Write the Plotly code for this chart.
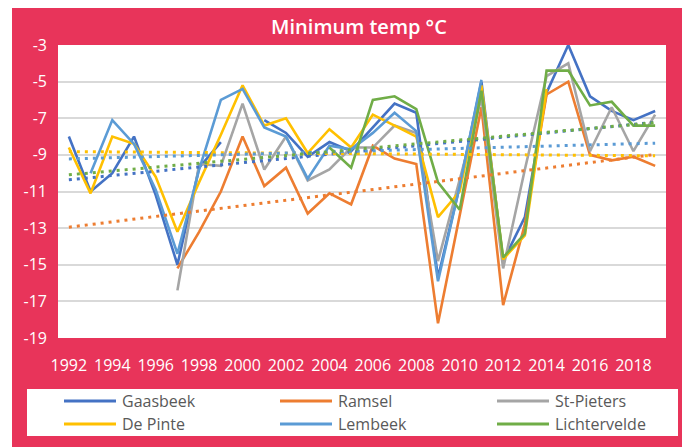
import plotly.graph_objects as go

years = list(range(1992, 2020))
year_ticks = list(range(1992, 2019, 2))
y_ticks = list(range(-19, -2, 2))

series_names = ["Gaasbeek", "Ramsel", "St-Pieters", "De Pinte", "Lembeek", "Lichtervelde"]
series_colors = ["#4472C4", "#ED7D31", "#A5A5A5", "#FFC000", "#5B9BD5", "#70AD47"]

N = None
gaasbeek = [-8.0, -11.0, -10.0, -8.0, -11.2, -15.0, -9.7, -8.3, N, -7.1, -7.8, -9.1, -8.3, -8.8,
            -7.5, -6.2, -6.7, -15.7, -10.7, -5.0, -14.8, -12.4, -5.6, -3.0, -5.8, -6.6, -7.1, -6.6]
ramsel = [N, N, N, N, N, -15.2, -13.2, -11.0, -8.0, -10.7, -9.7, -12.2, -11.1, -11.7,
          -8.5, -9.2, -9.5, -18.2, -12.3, -6.4, -17.2, -12.8, -5.7, -5.0, -9.0, -9.3, -9.1, -9.6]
st_pieters = [N, N, N, N, N, -16.4, -9.5, -9.6, -6.2, -9.8, -8.0, -10.4, -9.8, -8.6,
              -8.6, -7.4, -7.8, -14.8, -10.3, -5.9, -15.2, -9.8, -4.7, -4.0, -8.8, -6.4, -8.8, -6.8]
de_pinte = [-8.6, -11.1, -8.0, -8.4, -10.2, -13.2, -10.5, -7.9, -5.2, -7.4, -7.0, -8.9, -7.6, -8.6,
            -6.8, -7.4, -8.0, -12.4, -11.0, -5.2, -14.7, -13.4, -5.4, N, N, N, N, N]
lembeek = [N, -10.0, -7.1, -8.4, -10.9, -14.4, -9.8, -6.0, -5.4, -7.5, -8.0, -10.3, -8.5, -8.7,
           -7.8, -6.7, -7.7, -15.9, -10.7, -4.9, N, N, N, N, N, N, N, N]
lichtervelde = [N, N, N, N, N, N, N, N, N, N, N, N, -8.6, -9.7,
                -6.0, -5.8, -6.5, -10.5, -12.0, -5.5, -14.6, -13.3, -4.4, -4.4, -6.3, -6.1, -7.4, -7.4]

# trend lines (values at 1992 and 2019); St-Pieters has none
trend_years = [1992, 2019]
trend_gaasbeek = [-10.36, -7.22]
trend_ramsel = [-12.95, -8.98]
trend_de_pinte = [-8.82, -9.05]
trend_lembeek = [-9.22, -8.36]
trend_lichtervelde = [-10.09, -7.24]

series_values = [gaasbeek, ramsel, st_pieters, de_pinte, lembeek, lichtervelde]
trend_values = [trend_gaasbeek, trend_ramsel, None, trend_de_pinte, trend_lembeek, trend_lichtervelde]

PINK = "#E8345A"
FONT = "Open Sans"

fig = go.Figure()
for name, vals, col in zip(series_names, series_values, series_colors):
    fig.add_trace(go.Scatter(x=years, y=vals, mode="lines", name=name,
                             line=dict(color=col, width=2.6), connectgaps=False,
                             showlegend=False))
for name, tv, col in zip(series_names, trend_values, series_colors):
    if tv is None:
        continue
    fig.add_trace(go.Scatter(x=trend_years, y=tv, mode="lines", name=name + " trend",
                             line=dict(color=col, width=3, dash="3px,5px"),
                             showlegend=False))

# page body adds an 8px offset; the figure is sized/positioned to compensate
OFF = 8
W, H = 694 - OFF, 447 - OFF
ML, MT = 58 - OFF, 45 - OFF
MR = W - (666 - OFF)
MB = H - (338 - OFF)
PW, PH = W - ML - MR, H - MT - MB


def px_x(X):
    return (X - OFF - ML) / PW


def px_y(Y):
    return (H - MB - (Y - OFF)) / PH


shapes = [
    # pink background card
    dict(type="rect", xref="paper", yref="paper", x0=px_x(12), x1=px_x(682),
         y0=px_y(450), y1=px_y(8), fillcolor=PINK, line=dict(width=0), layer="below"),
    # white plot area
    dict(type="rect", xref="paper", yref="paper", x0=0, x1=1, y0=0, y1=1,
         fillcolor="white", line=dict(width=0), layer="below"),
    # legend box
    dict(type="rect", xref="paper", yref="paper", x0=px_x(27), x1=px_x(678),
         y0=px_y(436), y1=px_y(389), fillcolor="white", line=dict(width=0), layer="above"),
]
annotations = []
col_x = [64, 280, 497]
row_y = [401, 424]
for i, (name, col) in enumerate(zip(series_names, series_colors)):
    r, c = divmod(i, 3)
    x0 = col_x[c]
    yy = row_y[r]
    shapes.append(dict(type="line", xref="paper", yref="paper",
                       x0=px_x(x0), x1=px_x(x0 + 52), y0=px_y(yy), y1=px_y(yy),
                       line=dict(color=col, width=3), layer="above"))
    annotations.append(dict(xref="paper", yref="paper", x=px_x(x0 + 56), y=px_y(yy),
                            text=name, showarrow=False, xanchor="left", yanchor="middle",
                            font=dict(family=FONT, size=16, color="#595959")))

fig.update_layout(
    width=W, height=H,
    margin=dict(l=ML, r=MR, t=MT, b=MB, pad=0),
    paper_bgcolor="white",
    plot_bgcolor="white",
    title=dict(text="Minimum temp °C", x=px_x(359), xref="paper", xanchor="center",
               y=1 - (27 - OFF) / H, yref="container", yanchor="middle",
               font=dict(family=FONT, size=20, color="white", weight=600)),
    xaxis=dict(range=[1991.5, 2019.5], tickvals=year_ticks, ticktext=[str(t) for t in year_ticks],
               showgrid=False, zeroline=False, showline=False, ticks="",
               tickfont=dict(family=FONT, size=16, color="white"), ticklabelstandoff=16),
    yaxis=dict(range=[-19, -3], tickvals=y_ticks, ticktext=[str(t) for t in y_ticks],
               showgrid=True, gridcolor="#D9D9D9", gridwidth=1.5, zeroline=False,
               showline=False, ticks="",
               tickfont=dict(family=FONT, size=16, color="white"), ticklabelstandoff=10),
    shapes=shapes,
    annotations=annotations,
    showlegend=False,
)

fig.write_html("out.html")
